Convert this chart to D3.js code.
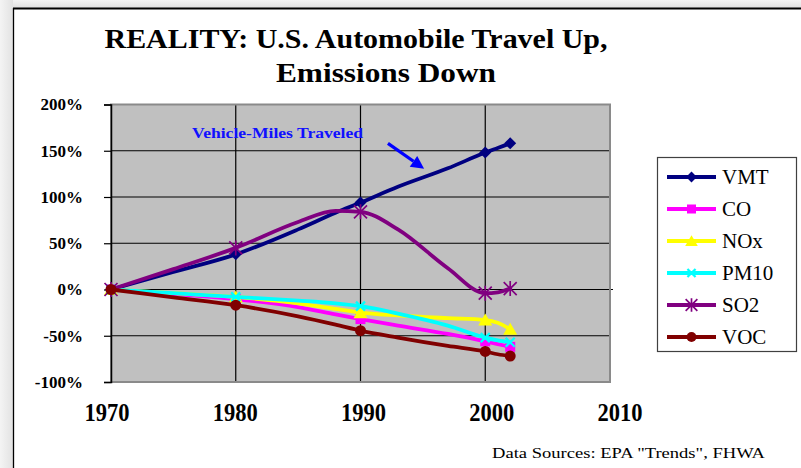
<!DOCTYPE html>
<html><head><meta charset="utf-8">
<script src="https://cdn.jsdelivr.net/npm/d3@7"></script>
<style>
html,body{margin:0;padding:0;background:#fff;}
svg{display:block;}
</style></head>
<body>
<svg id="c" width="801" height="468"></svg>
<script>
const years = [1970, 1975, 1980, 1985, 1988, 1990, 1993, 1997, 2000, 2001, 2002];
const vmt  = [0, 19, 38, 65, 83, 94, 111, 131, 148, 153, 158];
const co   = [0, -5, -10.5, -19, -27, -32, -39, -48, -56, -59, -62];
const nox  = [0, -4, -8, -15, -21, -25, -28, -31, -33, -36, -43];
const pm10 = [0, -4, -8, -12, -15, -18, -26, -39, -52, -55, -57];
const so2  = [0, 22, 45, 73, 85, 84, 65, 23, -4, -3, 1];
const voc  = [0, -8.5, -17, -29, -38, -44.5, -52, -61, -67, -70, -72];
const markerYears = [1970, 1980, 1990, 2000, 2002];
const seriesNames = ["VMT", "CO", "NOx", "PM10", "SO2", "VOC"];
const seriesValues = [vmt, co, nox, pm10, so2, voc];
const xTicks = [1970, 1980, 1990, 2000, 2010];
const yTicks = [-100, -50, 0, 50, 100, 150, 200];
const titleLines = ["REALITY: U.S. Automobile Travel Up,", "Emissions Down"];
const sourceText = 'Data  Sources: EPA "Trends", FHWA';
const annotText = "Vehicle-Miles Traveled";

const colors = {VMT:"#000080", CO:"#ff00ff", NOx:"#ffff00", PM10:"#00ffff", SO2:"#800080", VOC:"#800000"};
const markerType = {VMT:"diamond", CO:"square", NOx:"triangle", PM10:"x", SO2:"star", VOC:"circle"};

const svg = d3.select("#c");
const serif = "'Liberation Serif','Times New Roman',serif";

// page frame
const bg = svg.append("defs");
const gl = bg.append("linearGradient").attr("id","gl").attr("x1",0).attr("x2",1);
gl.append("stop").attr("offset",0).attr("stop-color","#f4f4f4");
gl.append("stop").attr("offset",1).attr("stop-color","#e2e2e2");
const gt = bg.append("linearGradient").attr("id","gt").attr("x1",0).attr("x2",0).attr("y1",0).attr("y2",1);
gt.append("stop").attr("offset",0).attr("stop-color","#f4f4f4");
gt.append("stop").attr("offset",1).attr("stop-color","#e0e0e0");
svg.append("rect").attr("x",0).attr("y",0).attr("width",801).attr("height",8).attr("fill","url(#gt)");
svg.append("rect").attr("x",0).attr("y",0).attr("width",13).attr("height",468).attr("fill","url(#gl)");
svg.append("line").attr("x1",13).attr("x2",801).attr("y1",8.5).attr("y2",8.5).attr("stroke","#000").attr("stroke-width",2);
svg.append("line").attr("x1",13.5).attr("x2",13.5).attr("y1",8).attr("y2",468).attr("stroke","#000").attr("stroke-width",1.3);

// scales
const x = d3.scaleLinear().domain([1970, 2010]).range([111, 610]);
const y = d3.scaleLinear().domain([-100, 200]).range([382, 104.5]);
const xLab = d3.scaleLinear().domain([1970, 2010]).range([107, 620]);

// plot area
svg.append("rect").attr("x",x(1970)).attr("y",y(200)).attr("width",x(2010)-x(1970)).attr("height",y(-100)-y(200))
  .attr("fill","#c0c0c0");

// gridlines
svg.append("g").selectAll("line").data(yTicks.filter(d=>d>-100 && d<200)).join("line")
  .attr("x1",x(1970)).attr("x2",d=>d===0?x(2010)+3:x(2010)).attr("y1",d=>y(d)).attr("y2",d=>y(d))
  .attr("stroke","#000").attr("stroke-width",1.2);
svg.append("g").selectAll("line").data(xTicks.filter(d=>d>1970 && d<2010)).join("line")
  .attr("x1",d=>x(d)).attr("x2",d=>x(d)).attr("y1",y(200)).attr("y2",y(-100))
  .attr("stroke","#000").attr("stroke-width",1.2);

// plot border
svg.append("rect").attr("x",x(1970)).attr("y",y(200)).attr("width",x(2010)-x(1970)).attr("height",y(-100)-y(200))
  .attr("fill","none").attr("stroke","#8a8a8a").attr("stroke-width",2);

// y axis
const yAxis = d3.axisLeft(y).tickValues(yTicks).tickSize(7).tickFormat("");
const yg = svg.append("g").attr("transform",`translate(${x(1970)},0)`).call(yAxis);
yg.select(".domain").attr("stroke","#000").attr("stroke-width",1.5);
yg.selectAll(".tick line").attr("stroke","#000").attr("stroke-width",1.2);
svg.append("g").selectAll("text").data(yTicks).join("text")
  .attr("x",83).attr("y",d=>y(d)).attr("dy","0.35em").attr("text-anchor","end")
  .attr("font-family",serif).attr("font-weight","bold").attr("font-size",17).attr("fill","#000")
  .text(d=>d+"%");

// x labels
svg.append("g").selectAll("text").data(xTicks).join("text")
  .attr("x",d=>xLab(d)).attr("y",421).attr("text-anchor","middle")
  .attr("font-family",serif).attr("font-weight","bold").attr("font-size",25).attr("fill","#000")
  .attr("textLength",45).attr("lengthAdjust","spacingAndGlyphs")
  .text(d=>d);

// title
svg.append("text").attr("x",356).attr("y",48).attr("text-anchor","middle")
  .attr("font-family",serif).attr("font-weight","bold").attr("font-size",27)
  .attr("textLength",503).attr("lengthAdjust","spacingAndGlyphs").text(titleLines[0]);
svg.append("text").attr("x",386).attr("y",82).attr("text-anchor","middle")
  .attr("font-family",serif).attr("font-weight","bold").attr("font-size",27)
  .attr("textLength",220).attr("lengthAdjust","spacingAndGlyphs").text(titleLines[1]);

// source
svg.append("text").attr("x",492).attr("y",458)
  .attr("font-family",serif).attr("font-size",15)
  .attr("textLength",273).attr("lengthAdjust","spacingAndGlyphs").text(sourceText);

// markers
function drawMarker(g, type, cx, cy, color, s) {
  s = s || 1;
  if (type === "diamond") {
    g.append("path").attr("d",`M${cx},${cy-6*s}L${cx+6*s},${cy}L${cx},${cy+6*s}L${cx-6*s},${cy}Z`).attr("fill",color);
  } else if (type === "square") {
    g.append("rect").attr("x",cx-5*s).attr("y",cy-5*s).attr("width",10*s).attr("height",10*s).attr("fill",color);
  } else if (type === "triangle") {
    g.append("path").attr("d",`M${cx},${cy-6.5*s}L${cx+7*s},${cy+5.5*s}L${cx-7*s},${cy+5.5*s}Z`).attr("fill",color);
  } else if (type === "x") {
    g.append("path").attr("d",`M${cx-4.5*s},${cy-4.5*s}L${cx+4.5*s},${cy+4.5*s}M${cx+4.5*s},${cy-4.5*s}L${cx-4.5*s},${cy+4.5*s}`)
      .attr("stroke",color).attr("stroke-width",2.2);
  } else if (type === "star") {
    g.append("path").attr("d",`M${cx-6.5*s},${cy-6.5*s}L${cx+6.5*s},${cy+6.5*s}M${cx+6.5*s},${cy-6.5*s}L${cx-6.5*s},${cy+6.5*s}M${cx},${cy-7.5*s}L${cx},${cy+7.5*s}`)
      .attr("stroke",color).attr("stroke-width",1.7);
  } else if (type === "circle") {
    g.append("circle").attr("cx",cx).attr("cy",cy).attr("r",5.5*s).attr("fill",color);
  }
}

// series lines
const line = d3.line().x(d=>x(d[0])).y(d=>y(d[1])).curve(d3.curveMonotoneX);
seriesNames.forEach((name, i) => {
  const vals = seriesValues[i];
  const pts = years.map((yr, j) => [yr, vals[j]]);
  const g = svg.append("g");
  g.append("path").attr("d", line(pts)).attr("fill","none").attr("stroke",colors[name])
    .attr("stroke-width",3.8).attr("stroke-linejoin","round").attr("stroke-linecap","round");
  pts.filter(p => markerYears.includes(p[0])).forEach(p => {
    drawMarker(g, markerType[name], x(p[0]), y(p[1]), colors[name]);
  });
});

// annotation
svg.append("text").attr("x",x(1976.5)).attr("y",y(164))
  .attr("font-family",serif).attr("font-weight","bold").attr("font-size",15).attr("fill","#1010ff")
  .attr("textLength",171).attr("lengthAdjust","spacingAndGlyphs").text(annotText);
{
  const x0 = x(1992.2), y0 = y(158), x1 = x(1995.1), y1 = y(130.5);
  const ang = Math.atan2(y1-y0, x1-x0);
  const hl = 13, hw = 6.5;
  const bx = x1 - hl*Math.cos(ang), by = y1 - hl*Math.sin(ang);
  svg.append("line").attr("x1",x0).attr("y1",y0).attr("x2",bx).attr("y2",by)
    .attr("stroke","#0000ff").attr("stroke-width",3.2);
  const px = -Math.sin(ang), py = Math.cos(ang);
  svg.append("path").attr("d",`M${x1},${y1}L${bx+px*hw},${by+py*hw}L${bx-px*hw},${by-py*hw}Z`).attr("fill","#0000ff");
}

// legend
const lg = svg.append("g");
lg.append("rect").attr("x",657.5).attr("y",157.5).attr("width",139).attr("height",194)
  .attr("fill","#fff").attr("stroke","#404040").attr("stroke-width",1.2);
seriesNames.forEach((name, i) => {
  const ly = 177 + i*32;
  lg.append("line").attr("x1",667).attr("x2",716).attr("y1",ly).attr("y2",ly)
    .attr("stroke",colors[name]).attr("stroke-width",3.8);
  drawMarker(lg, markerType[name], 691.5, ly, colors[name], 0.9);
  lg.append("text").attr("x",722).attr("y",ly).attr("dy","0.35em")
    .attr("font-family",serif).attr("font-size",21).attr("fill","#000").text(name);
});
</script>
</body></html>
